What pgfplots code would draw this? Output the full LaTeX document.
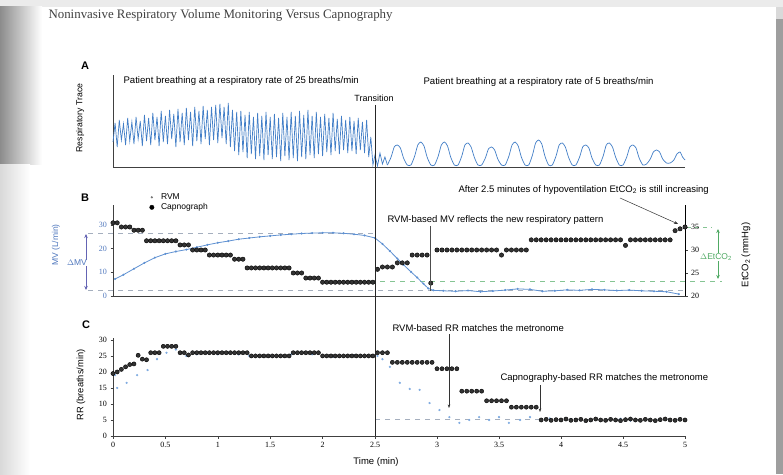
\documentclass[border=0pt]{standalone}
\usepackage{pgfplots}
\pgfplotsset{compat=1.18}
\usepackage{fontspec}
\setmainfont{Liberation Sans}
\newfontfamily\tnr{Liberation Serif}
\usetikzlibrary{arrows.meta}
\newcommand\fs[1]{\fontsize{#1}{#1}\selectfont}
\definecolor{traceblue}{RGB}{66,126,199}
\definecolor{mvblue}{RGB}{95,145,210}
\definecolor{rvmdot}{RGB}{125,170,225}
\definecolor{labblue}{RGB}{80,120,190}
\definecolor{dmv}{RGB}{100,100,180}
\definecolor{etgreen}{RGB}{80,170,100}
\definecolor{dashgray}{RGB}{165,175,190}
\pgfplotsset{
  pw/.style={
    x coord trafo/.code={\pgfmathparse{##1>2.5 ? 2.5+(##1-2.5)*1.1832 : ##1}},
    x coord inv trafo/.code={\pgfmathparse{##1>2.5 ? 2.5+(##1-2.5)/1.1832 : ##1}},
    xmin=0, xmax=5, scale only axis, width=572pt, clip=false,
    anchor=south west,
    /pgf/number format/assume math mode=true,
    tick label style={font=\tnr\fs{8}},
    major tick length=2.5pt, tick align=outside,
    axis line style={black!75, line width=0.7pt},
    tick style={black!75, line width=0.5pt},
  },
}
\begin{document}
\begin{tikzpicture}[x=1pt,y=1pt]
\useasboundingbox (0,0) rectangle (783,474);
\fill[white] (0,0) rectangle (783,474);
\fill[black!8] (0,467) rectangle (783,474);
\shade[left color=black!45, right color=white] (0,309) rectangle (42,467);
\shade[left color=black!15, right color=white] (0,0) rectangle (30,309);
\fill[black!38] (776,0) rectangle (783,455);
\fill[black!15] (776,455) rectangle (783,467);
\node[anchor=west, font=\tnr\fs{12.9}, text=black!75] at (45,459) {Noninvasive Respiratory Volume Monitoring Versus Capnography};
% dashed reference lines (under data)
\draw[dashgray, dash pattern=on 5pt off 5pt, line width=0.6pt] (88,241) -- (375,241);
\draw[dashgray, dash pattern=on 5pt off 5pt, line width=0.6pt] (88,183.5) -- (685,183.5);
\draw[etgreen!70, dash pattern=on 5pt off 5pt, line width=0.6pt] (360,193) -- (722,193);
\draw[etgreen!70, dash pattern=on 4pt off 4pt, line width=0.6pt] (687,247) -- (712,247);
\draw[dashgray, dash pattern=on 5pt off 5pt, line width=0.6pt] (375,55) -- (685,55);
% ---------- Panel A ----------
\begin{axis}[pw, at={(113pt,307pt)}, height=92pt, ymin=0, ymax=92,
  axis x line*=bottom, axis y line*=left, xtick=\empty, ytick=\empty]
\addplot[traceblue, line width=0.7pt] coordinates {
(0.00,25)(0.02,44)(0.04,20)(0.06,47)(0.08,27)(0.10,43)(0.12,22)(0.14,49)(0.16,26)(0.18,45)(0.20,23)(0.22,50)(0.24,28)(0.26,46)(0.28,21)(0.30,52)(0.32,26)(0.34,49)(0.36,22)(0.38,54)(0.40,27)(0.42,50)(0.44,21)(0.46,56)(0.48,25)(0.50,51)(0.52,23)(0.54,57)(0.56,28)(0.58,53)(0.60,20)(0.62,58)(0.64,25)(0.66,54)(0.68,22)(0.70,59)(0.72,27)(0.74,55)(0.76,21)(0.78,60)(0.80,26)(0.82,56)(0.84,23)(0.86,61)(0.88,28)(0.90,57)(0.92,22)(0.94,60)(0.96,27)(0.98,62)(1.00,24)(1.02,63)(1.04,29)(1.06,60)(1.08,23)(1.10,64)(1.12,20)(1.14,57)(1.16,16)(1.18,55)(1.20,12)(1.22,56)(1.24,15)(1.26,52)(1.28,9)(1.30,55)(1.32,13)(1.34,50)(1.36,8)(1.38,54)(1.40,11)(1.42,51)(1.44,7)(1.46,55)(1.48,12)(1.50,50)(1.52,8)(1.54,53)(1.56,10)(1.58,49)(1.60,6)(1.62,54)(1.64,11)(1.66,50)(1.68,7)(1.70,55)(1.72,9)(1.74,51)(1.76,6)(1.78,56)(1.80,10)(1.82,52)(1.84,8)(1.86,57)(1.88,12)(1.90,51)(1.92,9)(1.94,55)(1.96,13)(1.98,50)(2.00,11)(2.02,53)(2.04,15)(2.06,49)(2.08,12)(2.10,54)(2.12,16)(2.14,48)(2.16,13)(2.18,51)(2.20,17)(2.22,47)(2.24,14)(2.26,50)(2.28,16)(2.30,46)(2.32,13)(2.34,49)(2.36,17)(2.38,45)(2.40,14)(2.42,47)(2.44,10)(2.46,30)(2.48,2)(2.50,12)(2.52,1)(2.54,14)(2.56,3)(2.58,10)(2.60,2)};
\addplot[traceblue, line width=0.7pt, smooth, tension=0.4] coordinates {
(2.60,2)(2.63,10)(2.655,20)(2.68,22)(2.705,19)(2.73,9)(2.76,2)
(2.79,2)(2.82,11)(2.845,22)(2.87,25)(2.895,21)(2.92,10)(2.95,2)
(2.98,2)(3.01,11)(3.035,22)(3.06,25)(3.085,21)(3.11,10)(3.14,2)
(3.17,2)(3.20,11)(3.225,22)(3.25,24)(3.275,20)(3.30,10)(3.33,2)
(3.36,2)(3.39,9)(3.415,18)(3.44,20)(3.465,17)(3.49,8)(3.52,2)
(3.55,2)(3.58,11)(3.605,22)(3.63,25)(3.655,21)(3.68,10)(3.71,2)
(3.74,2)(3.77,12)(3.795,24)(3.82,27)(3.845,23)(3.87,11)(3.90,2)
(3.93,2)(3.96,11)(3.985,22)(4.01,24)(4.035,20)(4.06,10)(4.09,2)
(4.12,2)(4.15,10)(4.175,20)(4.20,22)(4.225,19)(4.25,9)(4.28,2)
(4.31,2)(4.34,11)(4.365,22)(4.39,24)(4.415,20)(4.44,10)(4.47,2)
(4.50,2)(4.53,10)(4.555,20)(4.58,22)(4.605,19)(4.63,9)(4.66,2)
(4.69,3)(4.72,8)(4.745,15)(4.77,17)(4.795,15)(4.82,8)(4.85,4)
(4.88,4)(4.91,7)(4.935,13)(4.96,15)(4.98,10)(5.00,7)};
\end{axis}
% ---------- Panel B (MV, left) ----------
\begin{axis}[pw, at={(113pt,178pt)}, height=91pt, ymin=0, ymax=38.45,
  axis x line*=bottom, axis y line*=left, xtick=\empty, ytick={0,10,20,30},
  yticklabel style={text=labblue},
  legend style={at={(0.062,1.16)}, anchor=north west, draw=none, fill=none,
    font=\fs{8.5}, row sep=-1.5pt, inner sep=1pt},
  legend cell align=left]
\addlegendimage{only marks, mark=*, mark size=0.9pt, black!55}
\addlegendentry{\hspace{5pt}RVM}
\addlegendimage{only marks, mark=*, mark size=2.2pt, black}
\addlegendentry{\hspace{5pt}Capnograph}
\addplot[mvblue, line width=0.8pt, mark=*, mark size=0.6pt, forget plot] coordinates {
(0.02,7.2)(0.1,9)(0.2,11.5)(0.3,14)(0.4,16.2)(0.5,17.8)(0.6,18.8)(0.7,19.6)(0.8,20.6)(0.9,21.6)(1.0,22.5)(1.1,23.2)(1.2,24)(1.3,24.5)(1.4,25)(1.5,25.4)(1.6,25.8)(1.7,26.1)(1.8,26.4)(1.9,26.6)(2.0,26.7)(2.1,26.7)(2.2,26.5)(2.3,26.1)(2.4,25.6)(2.5,24.5)(2.56,22)(2.62,19)(2.68,15.8)(2.73,13.2)(2.79,10.2)(2.84,7.8)(2.89,5.2)(2.93,3.2)(2.97,2.4)(3.05,2.2)(3.15,2.0)(3.25,2.3)(3.35,1.8)(3.45,2.1)(3.55,2.5)(3.65,3.0)(3.75,2.8)(3.85,2.0)(3.95,2.2)(4.05,2.6)(4.15,2.4)(4.25,2.8)(4.35,2.6)(4.45,2.3)(4.55,2.5)(4.65,2.2)(4.75,2.0)(4.85,1.8)(4.95,0.8)};
\end{axis}
% ---------- Panel B (EtCO2, right) ----------
\begin{axis}[pw, at={(113pt,178pt)}, height=91pt, ymin=20, ymax=39.78,
  axis x line=none, axis y line*=right, ytick={20,25,30,35},
  axis line style={black, line width=1pt}]
\addplot[only marks, mark=*, mark size=2.2pt, black, mark options={fill=black!80}] coordinates {
(0.00,35.9)(0.04,35.9)(0.08,35)(0.12,35)(0.16,35)(0.20,34.3)(0.24,34.3)(0.28,34.3)(0.32,32)(0.36,32)(0.40,32)(0.44,32)(0.48,32)(0.52,32)(0.56,32)(0.60,32)(0.64,31.1)(0.68,31.1)(0.72,31.1)(0.76,30)(0.80,30)(0.84,30)(0.88,30)(0.92,28.9)(0.96,28.9)(1.00,28.9)(1.04,28.9)(1.08,28.9)(1.12,28.9)(1.16,28)(1.20,28)(1.24,28)(1.28,26.1)(1.32,26.1)(1.36,26.1)(1.40,26.1)(1.44,26.1)(1.48,26.1)(1.52,26.1)(1.56,26.1)(1.60,26.1)(1.64,26.1)(1.68,26.1)(1.72,25)(1.76,25)(1.80,25)(1.84,23.9)(1.88,23.9)(1.92,23.9)(1.96,23.9)(2.00,23)(2.04,23)(2.08,23)(2.12,23)(2.16,23)(2.20,23)(2.24,23)(2.28,23)(2.32,23)(2.36,23)(2.40,23)(2.44,23)(2.48,23)(2.52,25.8)(2.56,26.3)(2.60,26.3)(2.64,26.3)(2.68,27.2)(2.72,27.2)(2.76,27.2)(2.80,28.9)(2.84,28.9)(2.88,28.9)(2.92,28.9)(2.95,22.8)(3.00,30)(3.04,30)(3.08,30)(3.12,30)(3.16,30)(3.20,30)(3.24,30)(3.28,30)(3.32,30)(3.36,30)(3.40,30)(3.44,30)(3.48,30)(3.52,28.9)(3.56,30)(3.60,30)(3.64,30)(3.68,30)(3.72,30)(3.76,32.2)(3.80,32.2)(3.84,32.2)(3.88,32.2)(3.92,32.2)(3.96,32.2)(4.00,32.2)(4.04,32.2)(4.08,32.2)(4.12,32.2)(4.16,32.2)(4.20,32.2)(4.24,32.2)(4.28,32.2)(4.32,32.2)(4.36,32.2)(4.40,32.2)(4.44,32.2)(4.48,32.2)(4.52,31)(4.56,32.2)(4.60,32.2)(4.64,32.2)(4.68,32.2)(4.72,32.2)(4.76,32.2)(4.80,32.2)(4.84,32.2)(4.88,32.2)(4.92,34.2)(4.96,34.6)(5.00,35)};
\end{axis}
% ---------- Panel C ----------
\begin{axis}[pw, at={(113pt,38pt)}, height=98pt, ymin=0, ymax=30.6,
  axis x line*=bottom, axis y line*=left,
  xtick={0,0.5,1,1.5,2,2.5,3,3.5,4,4.5,5},
  xticklabels={0,0.5,1,1.5,2,2.5,3,3.5,4,4.5,5},
  ytick={0,5,10,15,20,25,30}]
\addplot[only marks, mark=*, mark size=0.9pt, rvmdot] coordinates {
(0.02,19)(0.04,15)(0.13,16.6)(0.23,19)(0.33,20.6)(0.42,24)(0.51,26)(0.60,27)(0.70,25)(0.80,25.5)(0.90,26)(1.00,25.5)(1.10,26)(1.20,25.5)(1.30,25)(1.40,24.8)(1.50,25)(1.60,25.2)(1.70,25.5)(1.80,26)(1.90,25.5)(2.00,25)(2.10,24.8)(2.20,25)(2.30,25.2)(2.40,25)(2.52,25)(2.56,24)(2.62,21.6)(2.70,16.6)(2.78,14.7)(2.86,14.4)(2.94,10.3)(3.02,8.1)(3.10,5.9)(3.18,4.1)(3.26,5)(3.34,5.9)(3.42,5)(3.50,5.9)(3.58,4.1)(3.67,5)(3.75,5.9)(3.83,5)(3.91,5.5)(4.0,4.8)(4.08,5.3)(4.16,5)(4.24,4.7)(4.32,5.2)(4.40,5)(4.48,5.4)(4.56,4.8)(4.64,5)(4.72,5.3)(4.80,4.9)(4.88,5.1)(4.96,5)};
\addplot[only marks, mark=*, mark size=2.1pt, black, mark options={fill=black!80}] coordinates {
(0.00,19.5)(0.04,20)(0.08,20.8)(0.12,21.6)(0.16,22.3)(0.20,22.5)(0.24,25.2)(0.28,24)(0.32,23.8)(0.36,26)(0.40,26)(0.44,26)(0.48,28)(0.52,28)(0.56,28)(0.60,28)(0.64,26)(0.68,26)(0.72,25.3)(0.76,26)(0.80,26)(0.84,26)(0.88,26)(0.92,26)(0.96,26)(1.00,26)(1.04,26)(1.08,26)(1.12,26)(1.16,26)(1.20,26)(1.24,26)(1.28,26)(1.32,25)(1.36,25)(1.40,25)(1.44,25)(1.48,25)(1.52,25)(1.56,25)(1.60,25)(1.64,25)(1.68,25)(1.72,26)(1.76,26)(1.80,26)(1.84,26)(1.88,26)(1.92,26)(1.96,26)(2.00,25)(2.04,25)(2.08,25)(2.12,25)(2.16,25)(2.20,25)(2.24,25)(2.28,25)(2.32,25)(2.36,25)(2.40,25)(2.44,25)(2.48,25)(2.52,26)(2.56,26)(2.60,26)(2.64,23)(2.68,23)(2.72,23)(2.76,23)(2.80,23)(2.84,23)(2.88,23)(2.92,23)(2.96,23)(3.00,21)(3.04,21)(3.08,21)(3.12,21)(3.16,21)(3.20,14)(3.24,14)(3.28,14)(3.32,14)(3.36,14)(3.40,11)(3.44,11)(3.48,11)(3.52,11)(3.56,11)(3.60,9)(3.64,9)(3.68,9)(3.72,9)(3.76,9)(3.80,9)(3.84,5)(3.88,5.2)(3.92,4.9)(3.96,5.1)(4.00,5)(4.04,5.3)(4.08,4.9)(4.12,5)(4.16,5.2)(4.20,4.8)(4.24,5)(4.28,5.3)(4.32,5)(4.36,4.9)(4.40,5.2)(4.44,5)(4.48,4.8)(4.52,5.1)(4.56,5.3)(4.60,5)(4.64,4.9)(4.68,5.2)(4.72,5)(4.76,4.8)(4.80,5.1)(4.84,5.3)(4.88,5)(4.92,4.9)(4.96,5.2)(5.00,5)};
\end{axis}
% ---------- annotations ----------
\draw[black!85, line width=0.7pt] (375,369) -- (375,38);
\node[font=\fs{9}] at (374,376) {Transition};
\node[anchor=west, font=\fs{9.6}] at (120,393) {Patient breathing at a respiratory rate of 25 breaths/min};
\node[anchor=west, font=\fs{9.6}] at (420,392) {Patient breathing at a respiratory rate of 5 breaths/min};
\node[font=\bfseries\fs{11}] at (85,408) {A};
\node[font=\bfseries\fs{11}] at (85,276) {B};
\node[font=\bfseries\fs{11}] at (86,149) {C};
\node[rotate=90, font=\fs{8.7}] at (80,356) {Respiratory Trace};
\node[rotate=90, font=\fs{8.5}, text=labblue] at (56,229) {MV (L/min)};
\node[rotate=90, font=\fs{9.3}] at (81,89) {RR (breaths/min)};
\node[rotate=90, font=\fs{9.5}] at (746,219) {EtCO\textsubscript{2} (mmHg)};
\node[font=\fs{9.5}] at (376,12) {Time (min)};
\draw[dmv, line width=0.8pt, {Stealth[length=4pt,width=3.5pt]}-{Stealth[length=4pt,width=3.5pt]}] (86,240) -- (86,184);
\node[font=\fs{8.5}, text=labblue, fill=white, inner sep=0.5pt] at (77,211) {$\Delta$MV};
\draw[etgreen, line width=0.8pt, {Stealth[length=4pt,width=3.5pt]}-{Stealth[length=4pt,width=3.5pt]}] (718,245) -- (718,195);
\node[font=\fs{8.5}, text=etgreen, fill=white, inner sep=0.5pt] at (716,217) {$\Delta$EtCO\textsubscript{2}};
\node[anchor=west, font=\fs{9.5}] at (384,254) {RVM-based MV reflects the new respiratory pattern};
\draw[black!70, line width=0.5pt] (430,248) -- (430,183);
\node[anchor=west, font=\fs{9.5}] at (455,284) {After 2.5 minutes of hypoventilation EtCO\textsubscript{2} is still increasing};
\draw[black!80, line width=0.5pt, -{Stealth[length=4pt]}] (620,276) -- (678,250);
\node[anchor=west, font=\fs{9.5}] at (389,146) {RVM-based RR matches the metronome};
\draw[black!80, line width=0.5pt, -{Stealth[length=3.5pt]}] (449,140) -- (449,66);
\node[anchor=west, font=\fs{9.5}] at (497,96) {Capnography-based RR matches the metronome};
\draw[black!80, line width=0.5pt, -{Stealth[length=3.5pt]}] (540,89) -- (540,62);
\end{tikzpicture}
\end{document}
